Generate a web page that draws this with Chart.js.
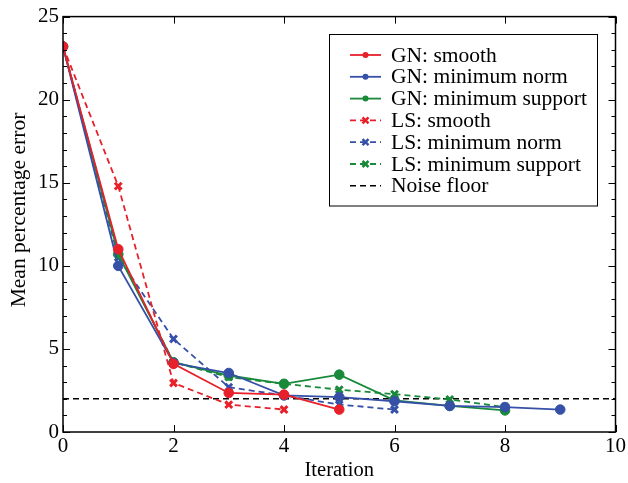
<!DOCTYPE html>
<html>
<head>
<meta charset="utf-8">
<script src="https://cdn.jsdelivr.net/npm/chart.js@4.4.0/dist/chart.umd.min.js"></script>
<style>
  html, body { margin: 0; padding: 0; background: #fff; }
  #wrap { width: 628px; height: 483px; }
</style>
</head>
<body>
<div id="wrap"><canvas id="chart" width="628" height="483"></canvas></div>
<script>
const iterations = [0, 1, 2, 3, 4, 5, 6, 7, 8, 9];

const gnSmooth = [23.2, 11.0, 4.1, 2.35, 2.25, 1.35];
const gnMinNorm = [23.2, 10.0, 4.15, 3.55, 2.2, 2.1, 1.85, 1.57, 1.5, 1.35];
const gnMinSupport = [23.2, 10.7, 4.2, 3.4, 2.9, 3.45, 1.9, 1.57, 1.3];
const lsSmooth = [23.2, 14.8, 2.95, 1.65, 1.35];
const lsMinNorm = [23.2, 10.5, 5.6, 2.7, 2.2, 1.65, 1.35];
const lsMinSupport = [23.2, 10.8, 4.2, 3.3, 2.9, 2.55, 2.28, 1.96, 1.5];
const noiseFloor = 2.0;

const xTicks = [0, 2, 4, 6, 8, 10];
const yTicks = [0, 5, 10, 15, 20, 25];
const yTitle = "Mean percentage error";

const RED = "#e8202a";
const BLUE = "#3650a8";
const GREEN = "#188a3a";
const FONT = "'Liberation Serif', 'DejaVu Serif', serif";

const pts = (vals) => vals.map((v, i) => ({ x: iterations[i], y: v }));

function series(label, vals, color, dashed) {
  return {
    label,
    data: pts(vals),
    borderColor: color,
    backgroundColor: color,
    borderWidth: 1.8,
    borderDash: dashed ? [6, 4] : [],
    pointStyle: dashed ? "crossRot" : "circle",
    pointRadius: 4.8,
    pointBorderWidth: dashed ? 3 : 1,
    pointBorderColor: color,
    pointBackgroundColor: color,
    tension: 0,
  };
}

const datasets = [
  series("GN: smooth", gnSmooth, RED, false),
  series("GN: minimum norm", gnMinNorm, BLUE, false),
  series("GN: minimum support", gnMinSupport, GREEN, false),
  series("LS: smooth", lsSmooth, RED, true),
  series("LS: minimum norm", lsMinNorm, BLUE, true),
  series("LS: minimum support", lsMinSupport, GREEN, true),
  {
    label: "Noise floor",
    data: [{ x: 0, y: noiseFloor }, { x: 10, y: noiseFloor }],
    borderColor: "#000",
    borderWidth: 1.5,
    borderDash: [6, 4],
    pointRadius: 0,
  },
];

// inward ticks, frame, y title and legend box
const frame = {
  id: "frame",
  afterDatasetsDraw(chart) {
    const { ctx, chartArea: a, scales } = chart;
    ctx.save();
    ctx.strokeStyle = "#000";
    ctx.lineWidth = 1.5;
    ctx.strokeRect(a.left, a.top, a.right - a.left, a.bottom - a.top);
    ctx.lineWidth = 1;
    ctx.beginPath();
    for (let v = 0; v <= 25; v++) {
      const y = Math.round(scales.y.getPixelForValue(v)) + 0.5;
      const len = v % 5 === 0 ? 7 : 4;
      ctx.moveTo(a.left, y); ctx.lineTo(a.left + len, y);
      ctx.moveTo(a.right, y); ctx.lineTo(a.right - len, y);
    }
    xTicks.forEach((v) => {
      const x = Math.round(scales.x.getPixelForValue(v)) + 0.5;
      ctx.moveTo(x, a.bottom); ctx.lineTo(x, a.bottom - 7);
      ctx.moveTo(x, a.top); ctx.lineTo(x, a.top + 7);
    });
    ctx.stroke();
    ctx.restore();
  },
  afterDraw(chart) {
    const { ctx } = chart;
    ctx.save();
    // y title
    ctx.translate(19, 210);
    ctx.rotate(-Math.PI / 2);
    ctx.font = "21.5px " + FONT;
    ctx.fillStyle = "#000";
    ctx.textAlign = "center";
    ctx.textBaseline = "middle";
    ctx.fillText(yTitle, 0, 0);
    ctx.restore();

    const bx = 329.5, by = 34.5, bw = 268, bh = 171.5;
    ctx.save();
    ctx.fillStyle = "#fff";
    ctx.fillRect(bx, by, bw, bh);
    ctx.strokeStyle = "#000";
    ctx.lineWidth = 1;
    ctx.strokeRect(bx, by, bw, bh);
    ctx.font = "21.5px " + FONT;
    ctx.textBaseline = "middle";
    chart.data.datasets.forEach((ds, i) => {
      const y = 55 + i * 21.8;
      ctx.strokeStyle = ds.borderColor;
      ctx.lineWidth = ds.borderWidth;
      ctx.setLineDash(ds.borderDash || []);
      ctx.beginPath();
      ctx.moveTo(350, y); ctx.lineTo(381, y);
      ctx.stroke();
      ctx.setLineDash([]);
      if (ds.pointRadius) {
        ctx.fillStyle = ds.borderColor;
        ctx.strokeStyle = ds.borderColor;
        if (ds.pointStyle === "circle") {
          ctx.beginPath();
          ctx.arc(365.5, y, 3, 0, Math.PI * 2);
          ctx.fill();
        } else {
          ctx.lineWidth = 2.5;
          ctx.beginPath();
          ctx.moveTo(362.5, y - 3); ctx.lineTo(368.5, y + 3);
          ctx.moveTo(368.5, y - 3); ctx.lineTo(362.5, y + 3);
          ctx.stroke();
        }
      }
      ctx.fillStyle = "#000";
      ctx.fillText(ds.label, 391, y + 1);
    });
    ctx.restore();
  },
};

new Chart(document.getElementById("chart"), {
  type: "line",
  data: { datasets },
  options: {
    responsive: false,
    animation: false,
    layout: { padding: { top: 12, right: 8, left: 0, bottom: 0 } },
    plugins: { legend: { display: false }, tooltip: { enabled: false } },
    scales: {
      x: {
        type: "linear",
        min: 0,
        max: 10,
        afterBuildTicks: (s) => { s.ticks = xTicks.map((v) => ({ value: v })); },
        afterFit: (s) => { s.height = 51; },
        grid: { display: false, drawTicks: false },
        border: { display: false },
        ticks: { color: "#000", padding: 2, font: { family: FONT, size: 21 } },
        title: {
          display: true,
          text: "Iteration",
          color: "#000",
          padding: { top: 0, bottom: 0 },
          font: { family: FONT, size: 20.5 },
        },
      },
      y: {
        type: "linear",
        min: 0,
        max: 25,
        afterBuildTicks: (s) => { s.ticks = yTicks.map((v) => ({ value: v })); },
        afterFit: (s) => { s.width = 63; },
        grid: { display: false, drawTicks: false },
        border: { display: false },
        ticks: { color: "#000", padding: 4, font: { family: FONT, size: 21 } },
      },
    },
  },
  plugins: [frame],
});
</script>
</body>
</html>
